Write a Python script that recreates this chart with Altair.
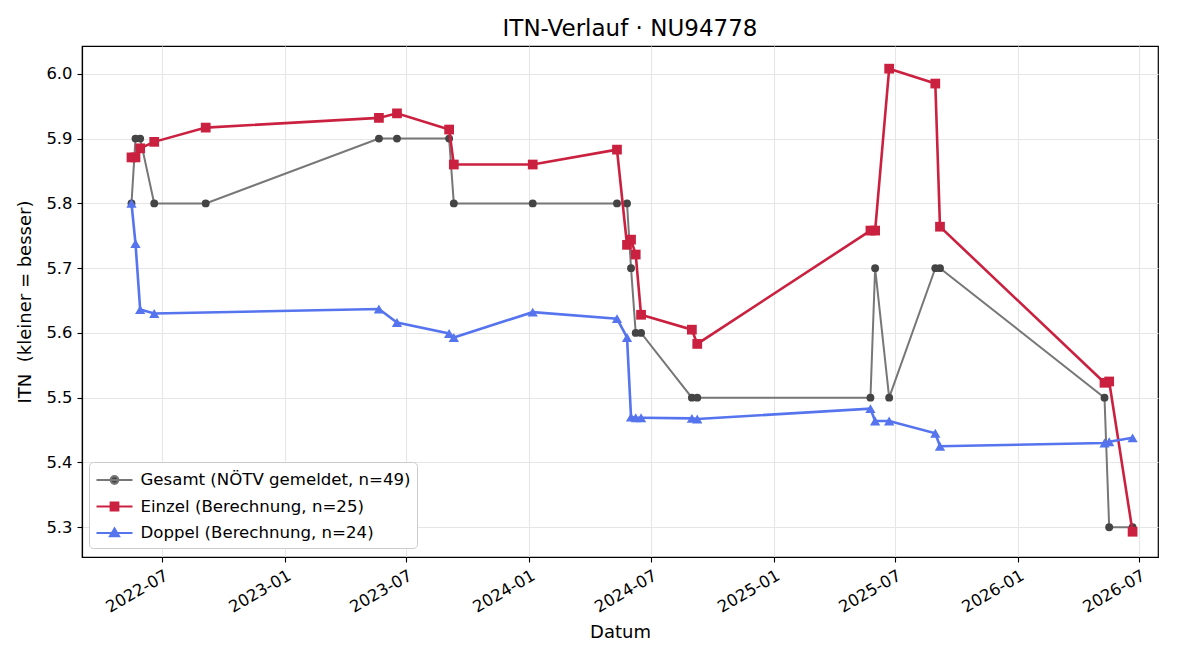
import altair as alt
import pandas as pd

# ---------------- data ----------------
dates_all = [
    "2022-05-16", "2022-05-22", "2022-05-29", "2022-06-19", "2022-09-04",
    "2023-05-21", "2023-06-17", "2023-09-03", "2023-09-10", "2024-01-06",
    "2024-05-11", "2024-05-26", "2024-06-01", "2024-06-08", "2024-06-16",
    "2024-08-31", "2024-09-08", "2025-05-25", "2025-06-01", "2025-06-22",
    "2025-08-30", "2025-09-06", "2026-05-10", "2026-05-17", "2026-06-21",
]
gesamt = [5.8, 5.9, 5.9, 5.8, 5.8, 5.9, 5.9, 5.9, 5.8, 5.8, 5.8, 5.8, 5.7,
          5.6, 5.6, 5.5, 5.5, 5.5, 5.7, 5.5, 5.7, 5.7, 5.5, 5.3, 5.3]
einzel = [5.871, 5.871, 5.885, 5.895, 5.917, 5.932, 5.939, 5.914, 5.860,
          5.860, 5.883, 5.736, 5.744, 5.721, 5.628, 5.605, 5.583, 5.758,
          5.758, 6.008, 5.985, 5.764, 5.523, 5.525, 5.293]
doppel_dates = [d for d in dates_all if d != "2022-09-04"]
doppel = [5.800, 5.738, 5.636, 5.630, 5.637, 5.616, 5.599, 5.593, 5.632,
          5.622, 5.593, 5.470, 5.469, 5.469, 5.468, 5.467, 5.483, 5.464,
          5.464, 5.445, 5.425, 5.430, 5.432, 5.438]

names = ["Gesamt (NÖTV gemeldet, n=49)", "Einzel (Berechnung, n=25)",
         "Doppel (Berechnung, n=24)"]
y_ticks = [5.3, 5.4, 5.5, 5.6, 5.7, 5.8, 5.9, 6.0]
x_tick_months = [(2022, 7), (2023, 1), (2023, 7), (2024, 1), (2024, 7),
                 (2025, 1), (2025, 7), (2026, 1), (2026, 7)]

# ---------------- styles ----------------
FONT = "DejaVu Sans"
line_cols = ["#777777", "#cb2140", "#5574ee"]
fill_cols = ["#444444", "#cb2140", "#5574ee"]
legend_paths = [
    "M-1.714,0H1.714M0.36,0A0.36,0.36 0 1,1 -0.36,0A0.36,0.36 0 1,1 0.36,0Z",
    "M-1.714,0H1.714M-0.36,-0.36H0.36V0.36H-0.36Z",
    "M-1.714,0H1.714M0,-0.42L0.42,0.3L-0.42,0.3Z",
]

frames = []
for nm, ds, vs in [(names[0], dates_all, gesamt), (names[1], dates_all, einzel),
                   (names[2], doppel_dates, doppel)]:
    frames.append(pd.DataFrame({"date": ds, "itn": vs, "series": nm}))
df = pd.concat(frames, ignore_index=True)

x_enc = alt.X(
    "date:T",
    title="Datum",
    scale=alt.Scale(type="utc", domain=[alt.DateTime(year=2022, month=3, date=3, utc=True),
                                        alt.DateTime(year=2026, month=7, date=29, utc=True)]),
    axis=alt.Axis(
        values=[alt.DateTime(year=y, month=m, date=1, utc=True) for y, m in x_tick_months],
        labelExpr="utcFormat(datum.value, '%Y-%m')", labelAngle=330, labelAlign="right",
        labelBaseline="top", grid=True,
    ),
)
y_enc = alt.Y(
    "itn:Q",
    title="ITN\u00a0 (kleiner = besser)",
    scale=alt.Scale(domain=[5.254, 6.043], nice=False, zero=False),
    axis=alt.Axis(values=y_ticks, format=".1f", grid=True),
)

base = alt.Chart(df)
layers = []
shapes = ["circle", "square", "triangle-up"]
sizes = [62, 95, 105]
widths = [2.0, 2.6, 2.6]
for i, nm in enumerate(names):
    sub = base.transform_filter(alt.datum.series == nm)
    layers.append(sub.mark_line(color=line_cols[i], strokeWidth=widths[i]).encode(x=x_enc, y=y_enc))
    layers.append(sub.mark_point(shape=shapes[i], filled=True, color=fill_cols[i],
                                 size=sizes[i], opacity=1).encode(x=x_enc, y=y_enc))

legend_kw = dict(
    title=None, orient="none", legendX=7, legendY=416, direction="vertical",
    fillColor="white", strokeColor="#cccccc", cornerRadius=4, padding=6,
    labelFont=FONT, labelFontSize=16.6, labelColor="black", labelOffset=14,
    labelLimit=500, symbolSize=441, symbolStrokeWidth=2.2, symbolOpacity=1,
    symbolFillColor="#444444", symbolOffset=7.5, rowPadding=5.5,
)
carrier = base.mark_point(filled=False, opacity=0).encode(
    x=x_enc, y=y_enc,
    color=alt.Color("series:N", scale=alt.Scale(domain=names, range=line_cols),
                    legend=alt.Legend(**legend_kw)),
    fill=alt.Fill("series:N", scale=alt.Scale(domain=names, range=fill_cols),
                  legend=alt.Legend(**legend_kw)),
    shape=alt.Shape("series:N", scale=alt.Scale(domain=names, range=legend_paths),
                    legend=alt.Legend(**legend_kw)),
)
layers.append(carrier)

chart = alt.layer(*layers).properties(
    width=1076, height=511,
    title=alt.TitleParams("ITN-Verlauf · NU94778", font=FONT, fontSize=23,
                          fontWeight="normal", color="black", anchor="middle", offset=5, dx=10),
    autosize=alt.AutoSizeParams(type="none"),
    padding={"left": 82, "top": 46, "right": 42, "bottom": 103},
).configure_view(
    stroke="black", strokeWidth=1.2,
).configure_axis(
    labelFont=FONT, labelFontSize=16.4, labelColor="black", labelPadding=5,
    titleFont=FONT, titleFontSize=18, titleFontWeight="normal", titleColor="black",
    tickColor="black", tickSize=5, tickWidth=1.1, domainColor="black", domainWidth=1.2,
    gridColor="#e6e6e6", gridWidth=1.1,
).configure_axisY(titlePadding=11).configure_axisX(titlePadding=8)

chart.save("out.html", embed_options={"renderer": "svg", "actions": False})
